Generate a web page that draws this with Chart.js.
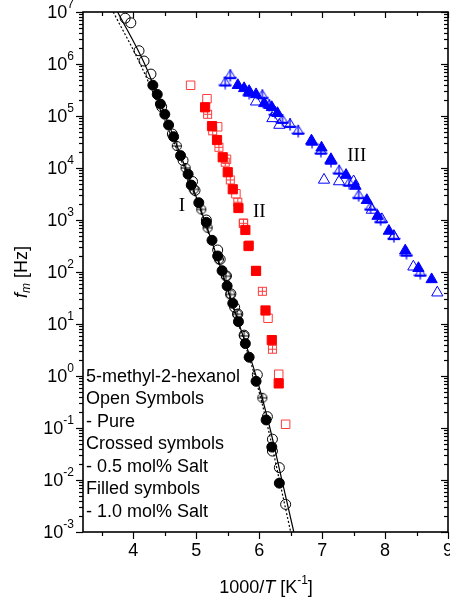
<!DOCTYPE html>
<html>
<head>
<meta charset="utf-8">
<script src="https://cdn.jsdelivr.net/npm/chart.js@4/dist/chart.umd.min.js"></script>
<style>
  html, body { margin: 0; padding: 0; background: #fff; overflow: hidden; }
  #grafica { display: block; }
</style>
</head>
<body>
<canvas id="grafica" width="450" height="608"></canvas>
<script>
// Datos: x = 1000/T [K^-1], y = f_m [Hz]
const xTicks = [4, 5, 6, 7, 8, 9];
const yExponentes = [-3, -2, -1, 0, 1, 2, 3, 4, 5, 6, 7];

// Serie I (negro)
const abiertoIX = [3.87, 3.96, 4.09, 4.17, 4.28, 4.45, 4.62, 4.79, 4.94, 4.98, 5.16, 5.34, 5.38, 5.48, 5.55, 5.61, 5.66, 5.76, 5.97, 6.13, 6.21, 6.21, 6.32, 6.42];
const abiertoIY = [7.6e6, 6.2e6, 1.8e6, 1.14e6, 6.4e5, 1.5e5, 4.5e4, 1.4e4, 5.5e3, 3.7e3, 1.0e3, 265, 175, 84, 38, 21, 15.6, 6.1, 1.06, 0.165, 0.061, 0.036, 0.0173, 0.0034];
const cruzIX = [4.69, 4.83, 4.96, 5.08, 5.18, 5.36, 5.47, 5.54, 5.65, 5.76, 6.05];
const cruzIY = [2.65e4, 1.0e4, 3.9e3, 1.6e3, 710, 175, 83, 37, 15.4, 5.9, 0.38];
const llenoIX = [4.31, 4.38, 4.43, 4.50, 4.56, 4.64, 4.75, 4.87, 4.92, 5.04, 5.16, 5.25, 5.34, 5.41, 5.49, 5.58, 5.67, 5.78, 5.84, 5.95, 6.11, 6.20, 6.32];
const llenoIY = [3.9e5, 2.6e5, 1.7e5, 1.08e5, 6.7e4, 4.0e4, 1.73e4, 7.6e3, 4.7e3, 2.15e3, 900, 407, 203, 106, 54, 25, 11.1, 4.2, 2.3, 0.79, 0.143, 0.043, 0.0087];

// Serie II (rojo)
const abiertoIIX = [4.91, 5.17, 5.34, 5.48, 5.63, 5.75, 5.95, 6.14, 6.31, 6.42];
const abiertoIIY = [3.9e5, 2.15e5, 6.2e4, 1.47e4, 3.2e3, 865, 106, 12.9, 1.08, 0.118];
const cruzIIX = [5.18, 5.26, 5.36, 5.46, 5.54, 5.66, 5.75, 5.84, 6.05, 6.21];
const cruzIIY = [1.08e5, 5.2e4, 2.5e4, 1.29e4, 5.9e3, 2.2e3, 865, 330, 42.6, 3.27];
const llenoIIX = [5.14, 5.25, 5.33, 5.42, 5.50, 5.58, 5.67, 5.78, 5.83, 5.95, 6.10, 6.20, 6.31];
const llenoIIY = [1.47e5, 6.4e4, 3.45e4, 1.61e4, 8.3e3, 3.9e3, 1.7e3, 643, 316, 105, 18.2, 4.9, 0.72];

// Serie III (azul)
const abiertoIIIX = [5.95, 6.21, 6.32, 7.03, 7.27, 7.50, 7.79, 7.95, 8.14, 8.45, 8.83];
const abiertoIIIY = [1.88e5, 9.0e4, 6.7e4, 5.9e3, 5.5e3, 5.5e3, 1.56e3, 1.03e3, 490, 126, 40];
const cruzIIIX = [5.46, 5.54, 5.84, 6.05, 6.16, 6.25, 6.37, 6.49, 6.62, 6.84, 6.98, 7.14, 7.27, 7.43, 7.58, 7.77, 7.93, 8.14, 8.34, 8.56];
const cruzIIIY = [4.4e5, 6.1e5, 2.8e5, 2.5e5, 1.63e5, 1.19e5, 8.4e4, 7.0e4, 5.2e4, 3.2e4, 2.15e4, 1.38e4, 8.9e3, 5.2e3, 3.0e3, 1.8e3, 1.03e3, 490, 235, 97];
const llenoIIIX = [5.66, 5.76, 5.84, 5.95, 6.08, 6.20, 6.29, 6.83, 6.99, 7.14, 7.38, 7.53, 7.71, 7.88, 8.06, 8.32, 8.53, 8.74];
const llenoIIIY = [3.9e5, 3.4e5, 3.0e5, 2.6e5, 1.75e5, 1.47e5, 1.13e5, 3.35e4, 2.45e4, 1.47e4, 7.3e3, 4.5e3, 2.4e3, 1.19e3, 614, 257, 118, 72];

// Curvas de ajuste sobre la serie I
const lineaSolidaX = [3.75, 4.18, 4.51, 4.83, 5.13, 5.41, 5.68, 5.95, 6.17, 6.36, 6.55];
const lineaPuntosX = [3.68, 4.11, 4.47, 4.81, 5.12, 5.40, 5.67, 5.93, 6.14, 6.32, 6.50];
const lineaY = [1e7, 1e6, 1e5, 1e4, 1e3, 100, 10, 1, 0.1, 0.01, 0.001];

// Etiquetas de las series
const etiquetas = ['I', 'II', 'III'];
const etiquetasX = [4.77, 6.0, 7.55];
const etiquetasY = [1860, 1425, 1.7e4];

const textoLeyenda = ['5-methyl-2-hexanol', 'Open Symbols', '- Pure', 'Crossed symbols', '- 0.5 mol% Salt', 'Filled symbols', '- 1.0 mol% Salt'];

const NEGRO = '#000000';
const ROJO = '#ff0000';
const ROJO_CLARO = '#ff3c3c';
const AZUL = '#0000ff';

const pares = (xs, ys) => xs.map((x, i) => ({ x: x, y: ys[i] }));

// Marcadores con cruz (no existen en Chart.js)
function marcaCruzada(forma, color) {
  const c = document.createElement('canvas');
  let g;
  if (forma === 'circulo') {
    c.width = 12; c.height = 12;
    g = c.getContext('2d');
    g.strokeStyle = color; g.lineWidth = 1;
    g.beginPath(); g.arc(6, 6, 4.6, 0, Math.PI * 2); g.stroke();
    g.beginPath();
    g.moveTo(6, 1.4); g.lineTo(6, 10.6);
    g.moveTo(1.4, 6); g.lineTo(10.6, 6);
    g.stroke();
  } else if (forma === 'cuadro') {
    c.width = 11; c.height = 11;
    g = c.getContext('2d');
    g.strokeStyle = color; g.lineWidth = 1;
    g.strokeRect(1.5, 1.5, 8, 8);
    g.beginPath();
    g.moveTo(5.5, 1.5); g.lineTo(5.5, 9.5);
    g.moveTo(1.5, 5.5); g.lineTo(9.5, 5.5);
    g.stroke();
  } else {
    c.width = 14; c.height = 14;
    g = c.getContext('2d');
    g.strokeStyle = color; g.lineWidth = 1;
    g.beginPath();
    g.moveTo(7, 1.5); g.lineTo(1.5, 10.5); g.lineTo(12.5, 10.5); g.closePath();
    g.stroke();
    g.lineWidth = 1.3;
    g.beginPath();
    g.moveTo(7, 1); g.lineTo(7, 13.5);
    g.moveTo(0.5, 9.5); g.lineTo(13.5, 9.5);
    g.stroke();
  }
  return c;
}

function puntos(data, estilo, color, relleno, radio, orden) {
  return {
    data: data,
    showLine: false,
    pointStyle: estilo,
    pointRadius: radio,
    pointBorderWidth: 1,
    pointBorderColor: color,
    pointBackgroundColor: relleno ? color : 'rgba(0,0,0,0)',
    order: orden
  };
}

function dibujarPartes(ctx, partes, cx, cy) {
  let total = 0;
  partes.forEach(p => { ctx.font = p.f; p.w = ctx.measureText(p.t).width; total += p.w; });
  let px = cx - total / 2;
  ctx.textAlign = 'left';
  ctx.textBaseline = 'middle';
  partes.forEach(p => { ctx.font = p.f; ctx.fillText(p.t, px, cy + p.dy); px += p.w; });
}

// Ejes, marcas y textos dibujados a mano
const marcoPlugin = {
  id: 'marco',
  afterDatasetsDraw(chart) {
    const { ctx, chartArea: a, scales: { x, y } } = chart;
    const linea = (x1, y1, x2, y2) => { ctx.beginPath(); ctx.moveTo(x1, y1); ctx.lineTo(x2, y2); ctx.stroke(); };
    ctx.save();
    ctx.strokeStyle = '#000';
    ctx.fillStyle = '#000';

    // marcas eje x
    ctx.lineWidth = 1.2;
    for (let v = 3.5; v <= 9.001; v += 0.5) {
      const px = Math.round(x.getPixelForValue(v)) + 0.5;
      const mayor = Math.abs(v - Math.round(v)) < 1e-6;
      linea(px, a.bottom, px, a.bottom + (mayor ? 7 : 4));
      linea(px, a.top, px, a.top + (mayor ? 6 : 4));
    }
    // marcas eje y (log)
    yExponentes.forEach(e => {
      const py = Math.round(y.getPixelForValue(Math.pow(10, e))) + 0.5;
      linea(a.left - 7, py, a.left, py);
      linea(a.right - 7, py, a.right, py);
      if (e < 7) {
        for (let k = 2; k <= 9; k++) {
          const pm = Math.round(y.getPixelForValue(k * Math.pow(10, e))) + 0.5;
          linea(a.left - 4, pm, a.left, pm);
          linea(a.right - 4, pm, a.right, pm);
        }
      }
    });

    // marco
    ctx.lineWidth = 1.6;
    ctx.strokeRect(a.left, a.top, a.right - a.left, a.bottom - a.top);

    // etiquetas eje x
    ctx.font = '18px "Liberation Sans", Arial, sans-serif';
    ctx.textAlign = 'center';
    ctx.textBaseline = 'top';
    xTicks.forEach(v => ctx.fillText(String(v), x.getPixelForValue(v), a.bottom + 10));

    // etiquetas eje y: 10 con exponente
    ctx.textBaseline = 'middle';
    yExponentes.forEach(e => {
      const py = y.getPixelForValue(Math.pow(10, e));
      const fin = a.left - 9;
      ctx.font = '12px "Liberation Sans", Arial, sans-serif';
      ctx.textAlign = 'right';
      const exp = String(e);
      const wExp = ctx.measureText(exp).width;
      ctx.fillText(exp, fin, py - 7);
      ctx.font = '18px "Liberation Sans", Arial, sans-serif';
      ctx.fillText('10', fin - wExp, py + 1);
    });

    // titulo eje x: 1000/T [K^-1]
    const partesX = [
      { t: '1000/', f: '18px "Liberation Sans", Arial, sans-serif', dy: 0 },
      { t: 'T', f: 'italic 18px "Liberation Sans", Arial, sans-serif', dy: 0 },
      { t: ' [K', f: '18px "Liberation Sans", Arial, sans-serif', dy: 0 },
      { t: '-1', f: '12px "Liberation Sans", Arial, sans-serif', dy: -7 },
      { t: ']', f: '18px "Liberation Sans", Arial, sans-serif', dy: 0 }
    ];
    dibujarPartes(ctx, partesX, 266, 588);

    // titulo eje y: f_m [Hz]
    ctx.save();
    ctx.translate(22, (a.top + a.bottom) / 2);
    ctx.rotate(-Math.PI / 2);
    const partesY = [
      { t: 'f', f: 'italic 18px "Liberation Sans", Arial, sans-serif', dy: 0 },
      { t: 'm', f: 'italic 12px "Liberation Sans", Arial, sans-serif', dy: 5 },
      { t: ' [Hz]', f: '18px "Liberation Sans", Arial, sans-serif', dy: 0 }
    ];
    dibujarPartes(ctx, partesY, 0, 0);
    ctx.restore();

    // numeros romanos
    ctx.font = '19px "Liberation Serif", "Times New Roman", serif';
    ctx.textAlign = 'center';
    ctx.textBaseline = 'middle';
    etiquetas.forEach((t, i) => ctx.fillText(t, x.getPixelForValue(etiquetasX[i]), y.getPixelForValue(etiquetasY[i])));

    // texto de leyenda
    ctx.font = '18px "Liberation Sans", Arial, sans-serif';
    ctx.textAlign = 'left';
    ctx.textBaseline = 'middle';
    textoLeyenda.forEach((t, i) => ctx.fillText(t, a.left + 3, 377 + i * 22.5));

    ctx.restore();
  }
};

const ctxGrafica = document.getElementById('grafica');

new Chart(ctxGrafica, {
  type: 'scatter',
  data: {
    datasets: [
      {
        data: pares(lineaSolidaX, lineaY),
        showLine: true, pointRadius: 0, borderColor: NEGRO, borderWidth: 1.2,
        cubicInterpolationMode: 'monotone', order: 20
      },
      {
        data: pares(lineaPuntosX, lineaY),
        showLine: true, pointRadius: 0, borderColor: NEGRO, borderWidth: 1.2,
        borderDash: [2, 2], cubicInterpolationMode: 'monotone', order: 21
      },
      puntos(pares(abiertoIX, abiertoIY), 'circle', NEGRO, false, 5, 12),
      puntos(pares(cruzIX, cruzIY), marcaCruzada('circulo', NEGRO), NEGRO, false, 6, 11),
      puntos(pares(llenoIX, llenoIY), 'circle', NEGRO, true, 5, 10),
      puntos(pares(abiertoIIX, abiertoIIY), 'rect', ROJO_CLARO, false, 6, 9),
      puntos(pares(cruzIIX, cruzIIY), marcaCruzada('cuadro', ROJO_CLARO), ROJO_CLARO, false, 6, 8),
      puntos(pares(llenoIIX, llenoIIY), 'rect', ROJO, true, 6.5, 7),
      puntos(pares(abiertoIIIX, abiertoIIIY), 'triangle', AZUL, false, 6.5, 6),
      puntos(pares(cruzIIIX, cruzIIIY), marcaCruzada('triangulo', AZUL), AZUL, false, 7, 5),
      puntos(pares(llenoIIIX, llenoIIIY), 'triangle', AZUL, true, 6.5, 4)
    ]
  },
  options: {
    responsive: false,
    animation: false,
    layout: { autoPadding: false, padding: { left: 83, right: 2, top: 12, bottom: 76 } },
    plugins: {
      legend: { display: false },
      tooltip: { enabled: false }
    },
    scales: {
      x: { type: 'linear', min: 3.2, max: 9, display: false },
      y: { type: 'logarithmic', min: 1e-3, max: 1e7, display: false }
    }
  },
  plugins: [marcoPlugin]
});
</script>
</body>
</html>
